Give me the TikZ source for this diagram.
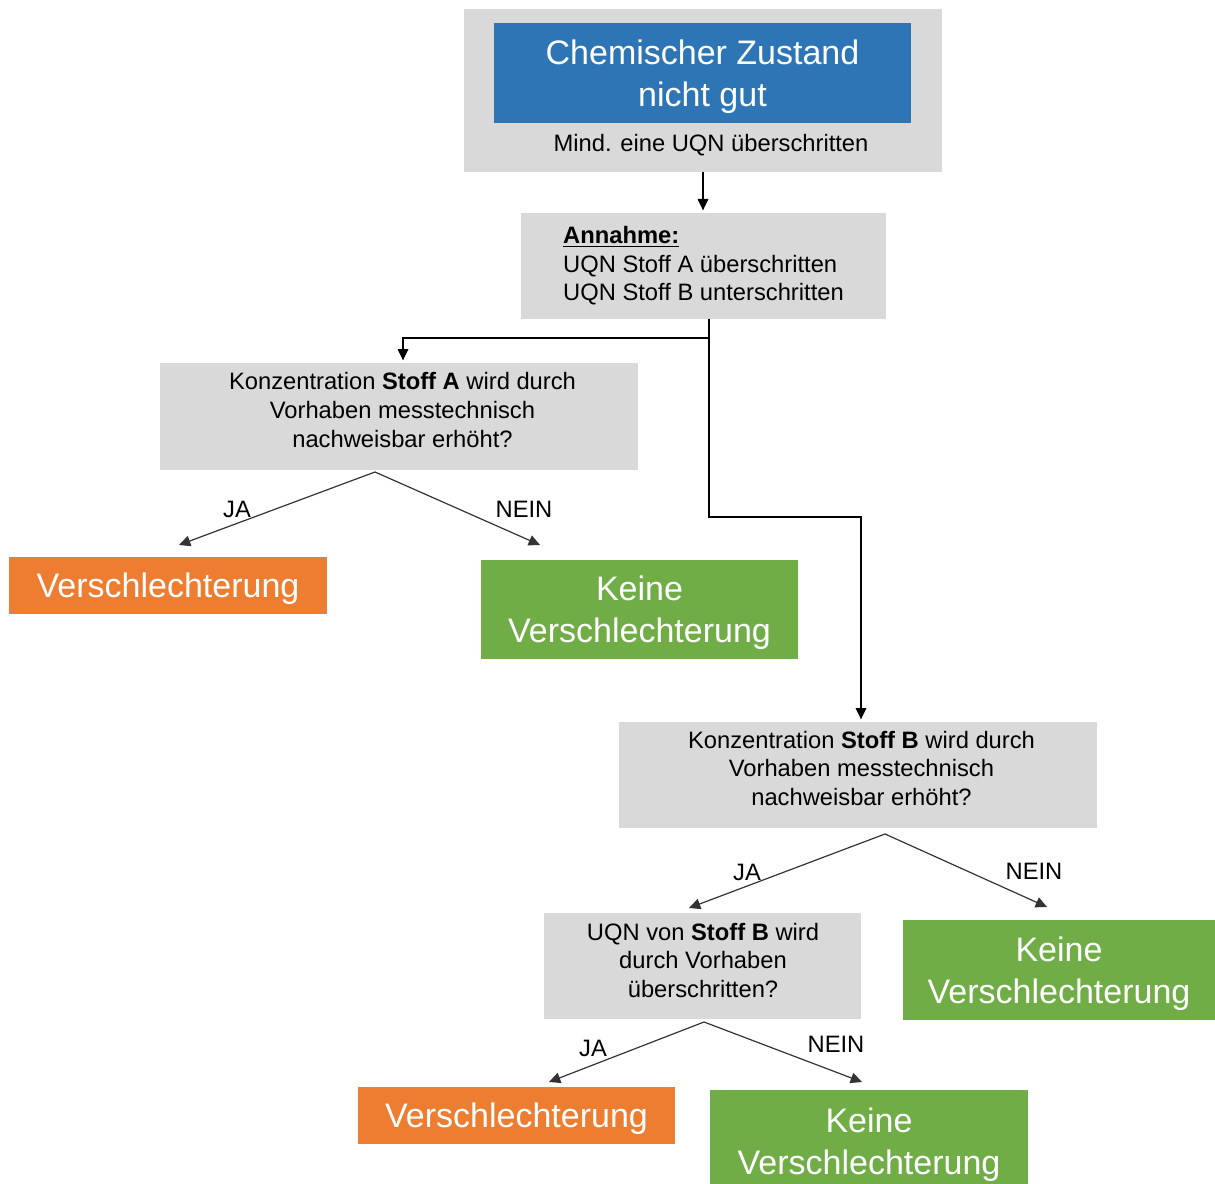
\documentclass[tikz,border=0pt]{standalone}
\usepackage{fontspec}
\setmainfont{Liberation Sans}
\usetikzlibrary{arrows.meta,calc}
\definecolor{boxgrey}{HTML}{D9D9D9}
\definecolor{headblue}{HTML}{2E75B6}
\definecolor{badorange}{HTML}{ED7D31}
\definecolor{goodgreen}{HTML}{70AD47}
\tikzset{
  sz/.style 2 args={minimum width=#1*0.75pt,minimum height=#2*0.75pt},
  box/.style={inner sep=0pt,outer sep=0pt,draw=none},
  medtext/.style={font=\fontsize{17.8}{21.4}\selectfont,align=center,text=black,inner sep=0pt},
  bigtext/.style={font=\fontsize{25.5}{31.5}\selectfont,align=center,text=white,inner sep=0pt,text depth=0pt},
  conn/.style={line width=0.9pt,draw=black,-{Triangle[length=8.5pt,width=8pt]}},
  diag/.style={conn,draw=black!80}
}
\begin{document}
\begin{tikzpicture}[x=0.75pt,y=-0.75pt]
\useasboundingbox (0,0) rectangle (1215,1184);

% top block
\node[box,fill=boxgrey,sz={478}{163}] (top) at (703,90.5) {};
\node[box,fill=headblue,sz={417}{100},bigtext] (blue) at (702.5,73) {Chemischer Zustand\\nicht gut};
\node[medtext] (mind) at (711,145.5) {Mind. eine UQN überschritten};

% assumption
\node[box,fill=boxgrey,sz={365}{106},medtext,align=left] (ann) at (703.5,266)
  {\underline{\textbf{Annahme:}}\\UQN Stoff A überschritten\\UQN Stoff B unterschritten};

% question A
\node[box,fill=boxgrey,sz={478}{107}] (boxA) at (399,416.5) {};
\node[medtext] (txtA) at (402.5,410) {Konzentration \textbf{Stoff A} wird durch\\Vorhaben messtechnisch\\nachweisbar erhöht?};
\node[box,fill=badorange,sz={318}{57},bigtext] (or1) at (168,585.5) {Verschlechterung};
\node[box,fill=goodgreen,sz={317}{99},bigtext] (gr1) at (639.5,609.5) {Keine\\Verschlechterung};

% question B
\node[box,fill=boxgrey,sz={478}{106}] (boxB) at (858,775) {};
\node[medtext] (txtB) at (861.5,768.5) {Konzentration \textbf{Stoff B} wird durch\\Vorhaben messtechnisch\\nachweisbar erhöht?};
\node[box,fill=goodgreen,sz={312}{100},bigtext] (gr2) at (1059,970) {Keine\\Verschlechterung};

% question C
\node[box,fill=boxgrey,sz={317}{106}] (boxC) at (702.5,966) {};
\node[medtext] (txtC) at (703,960.5) {UQN von \textbf{Stoff B} wird\\durch Vorhaben\\überschritten?};
\node[box,fill=badorange,sz={317}{57},bigtext] (or2) at (516.5,1115.5) {Verschlechterung};
\node[box,fill=goodgreen,sz={318}{102},bigtext] (gr3) at (869,1141) {Keine\\Verschlechterung};

% labels
\node[medtext] (jaA) at (237,509) {JA};
\node[medtext] (neinA) at (524,509) {NEIN};
\node[medtext] (jaB) at (747,872) {JA};
\node[medtext] (neinB) at (1034,871) {NEIN};
\node[medtext] (jaC) at (593,1048) {JA};
\node[medtext] (neinC) at (836,1044) {NEIN};

% connectors
\draw[conn,shorten >=2pt] (top.south) -- (top.south |- ann.north);
\coordinate (split) at (709,338);
\coordinate (turn) at (709,517);
\draw[conn,shorten >=2pt] (split) -| ($(boxA.north)+(4,0)$);
\draw[conn,shorten >=2pt] (ann.south -| split) -- (turn) -| ($(boxB.north)+(3,0)$);

\coordinate (apA) at (375,472);
\coordinate (tjA) at (179,545);
\coordinate (tnA) at (540,545);
\draw[diag] (apA) -- (tjA);
\draw[diag] (apA) -- (tnA);

\coordinate (apB) at (885,834);
\coordinate (tjB) at (689,908);
\coordinate (tnB) at (1047,907);
\draw[diag] (apB) -- (tjB);
\draw[diag] (apB) -- (tnB);

\coordinate (apC) at (704,1022);
\coordinate (tjC) at (549,1082);
\coordinate (tnC) at (862,1082);
\draw[diag] (apC) -- (tjC);
\draw[diag] (apC) -- (tnC);
\end{tikzpicture}
\end{document}
